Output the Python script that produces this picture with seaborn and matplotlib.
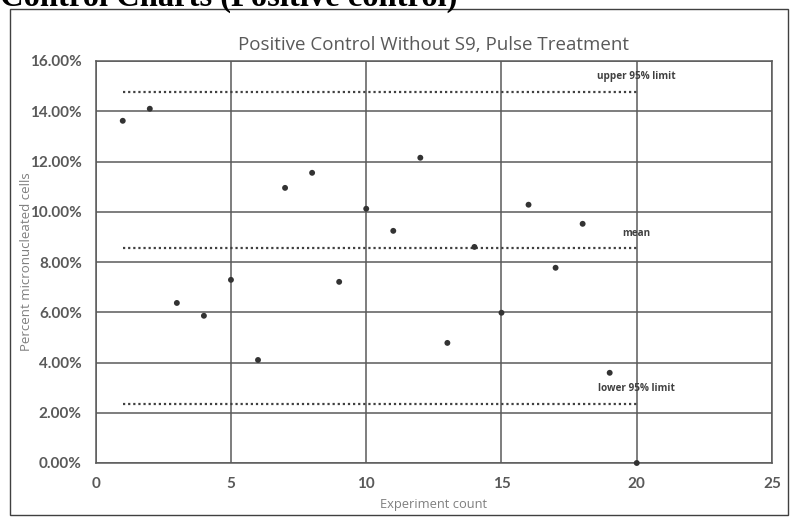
import matplotlib
matplotlib.use("Agg")
import matplotlib.pyplot as plt
import seaborn as sns
import pandas as pd
from matplotlib.ticker import FuncFormatter
from matplotlib.patches import Rectangle

# ---- data ----
experiment = [1, 2, 3, 4, 5, 6, 7, 8, 9, 10, 11, 12, 13, 14, 15, 16, 17, 18, 19, 20]
percent_mn = [13.62, 14.10, 6.37, 5.86, 7.29, 4.10, 10.95, 11.55, 7.21, 10.12,
              9.24, 12.15, 4.78, 8.60, 5.98, 10.28, 7.77, 9.52, 3.59, 0.00]
limit_names = ["upper 95% limit", "mean", "lower 95% limit"]
limit_values = [14.77, 8.55, 2.35]
label_y = [15.38, 9.12, 2.95]
x_ticks = [0, 5, 10, 15, 20, 25]
y_ticks = [0, 2, 4, 6, 8, 10, 12, 14, 16]

df = pd.DataFrame({"Experiment count": experiment, "Percent micronucleated cells": percent_mn})

sns.set_theme(style="white")
plt.rcParams["font.family"] = ["Open Sans", "DejaVu Sans"]

fig = plt.figure(figsize=(7.95, 5.18), dpi=100)
fig.patch.set_facecolor("white")

# header (partially cut at the top edge, as in the reference)
fig.text(0.0, 0.9894, "Control Charts (Positive control)", family="Liberation Serif",
         weight="bold", fontsize=23.5, color="black", va="baseline", ha="left")

# chart border
fig.patches.append(Rectangle((10/795, 1-515/518), 778/795, 506/518, transform=fig.transFigure,
                             fill=False, edgecolor="#404040", linewidth=1.0, zorder=0))

ax = fig.add_axes([95.7/795, 55/518, 676.3/795, 402/518])
ax.set_facecolor("none")

gridc = "#5a5a5a"
for s in ax.spines.values():
    s.set_color(gridc)
    s.set_linewidth(1.1)

ax.set_xlim(0, 25)
ax.set_ylim(0, 16)
ax.set_xticks(x_ticks)
ax.set_yticks(y_ticks)
ax.grid(True, color=gridc, linewidth=1.1)
ax.set_axisbelow(True)
ax.yaxis.set_major_formatter(FuncFormatter(lambda v, p: f"{v:.2f}%"))
ax.tick_params(axis="both", length=0, labelsize=11, labelcolor="#595959", pad=10)
for lab in ax.get_xticklabels() + ax.get_yticklabels():
    lab.set_fontweight("bold")
    lab.set_family(["Lato", "DejaVu Sans"])

# limit lines
for name, v, ly in zip(limit_names, limit_values, label_y):
    ax.hlines(v, experiment[0], experiment[-1], colors="#404040", linewidth=1.6,
              linestyles=(0, (1, 1.3)), zorder=2)
    ax.text(experiment[-1], ly, name, ha="center", va="center", fontsize=7.2,
            color="#404040", fontweight="bold")

sns.scatterplot(data=df, x="Experiment count", y="Percent micronucleated cells", ax=ax,
                color="#333333", s=18, edgecolor="none", zorder=3, clip_on=False)

ax.set_title("Positive Control Without S9, Pulse Treatment", fontsize=13.5, color="#595959",
             pad=8)
ax.set_xlabel("Experiment count", fontsize=9.3, color="#7f7f7f", labelpad=5)
ax.set_ylabel("Percent micronucleated cells", fontsize=9.5, color="#7f7f7f", labelpad=-2)

fig.savefig("out.png", dpi=100)
